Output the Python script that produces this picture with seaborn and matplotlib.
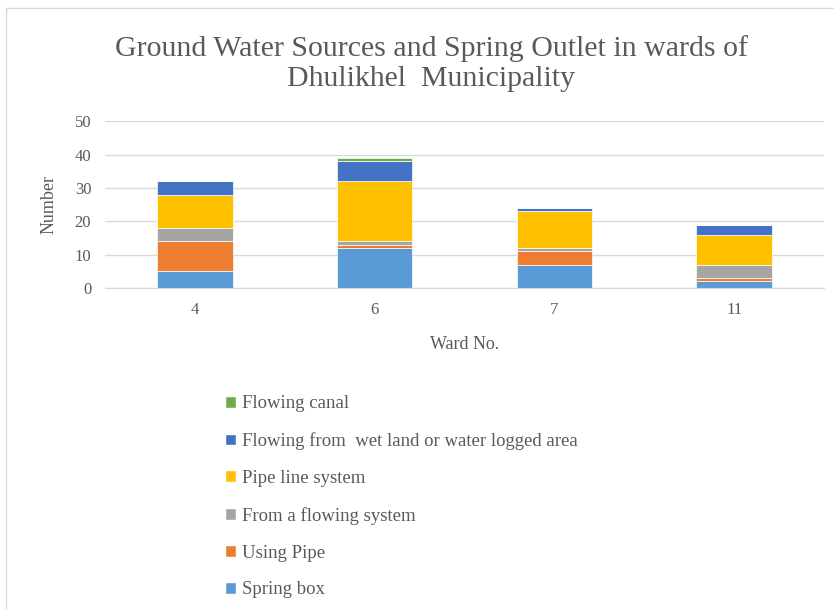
import numpy as np
import pandas as pd
import matplotlib
matplotlib.use("Agg")
import matplotlib.pyplot as plt
import seaborn as sns
from matplotlib.patches import Patch, Rectangle

# %% data
wards = ['4', '6', '7', '11']
series_names = ['Spring box', 'Using Pipe', 'From a flowing system',
                'Pipe line system', 'Flowing from  wet land or water logged area',
                'Flowing canal']
spring_box = [5, 12, 7, 2]
using_pipe = [9, 1, 4, 1]
flowing_system = [4, 1, 1, 4]
pipe_line = [10, 18, 11, 9]
wet_land = [4, 6, 1, 3]
flowing_canal = [0, 1, 0, 0]
colors = ['#5B9BD5', '#ED7D31', '#A5A5A5', '#FFC000', '#4472C4', '#70AD47']

values = [spring_box, using_pipe, flowing_system, pipe_line, wet_land, flowing_canal]

# %% plot
sns.set_style('white')
plt.rcParams['font.family'] = ['Liberation Serif', 'DejaVu Serif']

fig = plt.figure(figsize=(8.34, 6.09), dpi=100)
ax = fig.add_axes([0.126, 0.527, 0.862, 0.274])

bottom = np.zeros(len(wards))
for name, vals, col in zip(series_names, values, colors):
    df = pd.DataFrame({'Ward': wards, 'Count': vals})
    sns.barplot(data=df, x='Ward', y='Count', color=col, bottom=bottom,
                width=0.42, ax=ax, saturation=1, edgecolor='white', linewidth=0.5)
    bottom = bottom + np.array(vals)

ax.set_ylim(0, 50)
ax.set_yticks(range(0, 51, 10))
ax.yaxis.grid(True, color='#D9D9D9', linewidth=1)
ax.set_axisbelow(True)
for s in ['top', 'right', 'left']:
    ax.spines[s].set_visible(False)
ax.spines['bottom'].set_color('#D9D9D9')
ax.tick_params(axis='both', length=0, labelsize=12, colors='#595959', pad=10)
ax.set_xlabel('Ward No.', fontsize=13, color='#595959', labelpad=13)
ax.set_ylabel('Number', fontsize=13, color='#595959', labelpad=12)

fig.text(0.517, 0.896, 'Ground Water Sources and Spring Outlet in wards of\nDhulikhel  Municipality',
         ha='center', va='center', fontsize=21.5, color='#595959', linespacing=1.2)

handles = [Patch(facecolor=c, label=n) for n, c in zip(series_names, colors)][::-1]
fig.legend(handles=handles, loc='upper left', bbox_to_anchor=(0.265, 0.357),
           frameon=False, fontsize=13.5, labelcolor='#595959',
           handlelength=0.6, handleheight=0.6, handletextpad=0.3,
           labelspacing=1.06, borderaxespad=0, borderpad=0.2)

fig.patches.append(Rectangle((6 / 834, -0.1), 1.2, 1 - 8 / 609 + 0.1,
                             transform=fig.transFigure, fill=False,
                             edgecolor='#D9D9D9', linewidth=1))

fig.savefig('out.png', dpi=100)
